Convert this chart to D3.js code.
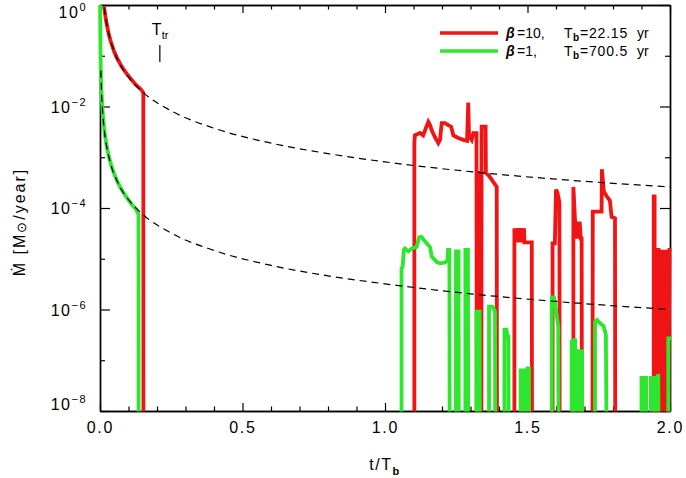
<!DOCTYPE html>
<html>
<head>
<meta charset="utf-8">
<script src="https://cdn.jsdelivr.net/npm/d3@7"></script>
<style>
  body { margin: 0; background: #fff; }
  text { font-family: "Liberation Sans", Arial, sans-serif; fill: #000; }
</style>
</head>
<body>
<div id="chart"></div>
<script>
// values (t/Tb, Mdot in Msun/yr)
// OFF = rate below the plotted range, the line just drops out of the frame
const OFF = 1e-9;

const xMajorTicks = [0, 0.5, 1.0, 1.5, 2.0];
const xMinorTicks = [0.1, 0.2, 0.3, 0.4, 0.6, 0.7, 0.8, 0.9, 1.1, 1.2, 1.3, 1.4, 1.6, 1.7, 1.8, 1.9];
const yMajorTicks = [1, 1e-2, 1e-4, 1e-6, 1e-8];
const yMajorLabels = ["0", "\u22122", "\u22124", "\u22126", "\u22128"];
const yMinorTicks = [1e-1, 1e-3, 1e-5, 1e-7];

const seriesBeta = ["10", "1"];
const seriesTb = ["22.15", "700.5"];

const tTr = 0.21;
const tTrMark = [0.163, 0.075];

// beta = 10
const redEarly = [
  [0.014, 0.93], [0.02, 0.55], [0.03, 0.28], [0.05, 0.12], [0.075, 0.063],
  [0.1, 0.04], [0.125, 0.027], [0.152, 0.0186], [0.1525, OFF]
];
const redLate = [
  [1.103, OFF], [1.103, 1.9e-3], [1.105, 2.7e-3], [1.123, 3.0e-3], [1.134, 2.7e-3],
  [1.143, 3.7e-3], [1.152, 5.0e-3], [1.158, 4.3e-3], [1.164, 3.4e-3], [1.175, 2.5e-3],
  [1.187, 1.9e-3], [1.193, 2.2e-3], [1.199, 4.7e-3], [1.211, 4.7e-3], [1.222, 4.3e-3],
  [1.232, 4.0e-3], [1.240, 2.7e-3], [1.257, 2.4e-3], [1.275, 2.2e-3], [1.288, 2.1e-3],
  [1.292, 1.2e-2], [1.295, 2.6e-3], [1.304, 2.2e-3], [1.310, 3.0e-3], [1.321, 3.0e-3],
  [1.322, OFF], [1.327, OFF], [1.328, 4.9e-4], [1.333, 4.9e-4], [1.334, OFF],
  [1.338, OFF], [1.339, 4.0e-3], [1.353, 4.0e-3], [1.354, 4.9e-4], [1.365, 4.3e-4],
  [1.392, 2.6e-4], [1.393, OFF],
  [1.454, OFF], [1.454, 4.0e-5], [1.460, 2.1e-5], [1.466, 4.0e-5], [1.472, 2.1e-5],
  [1.478, 4.0e-5], [1.484, 2.1e-5], [1.488, 4.0e-5], [1.489, 2.1e-5], [1.515, 2.1e-5],
  [1.516, OFF],
  [1.588, OFF], [1.588, 2.0e-5], [1.596, 2.0e-5], [1.600, 2.3e-4], [1.605, 2.0e-4],
  [1.612, 1.3e-4], [1.613, OFF],
  [1.661, OFF], [1.661, 2.6e-4], [1.667, 5.4e-5], [1.671, 2.5e-5], [1.675, 5.4e-5],
  [1.679, 2.5e-5], [1.683, 5.4e-5], [1.687, 2.5e-5], [1.690, 2.5e-5], [1.691, OFF],
  [1.728, OFF], [1.729, 8.5e-5], [1.760, 8.5e-5], [1.761, 5.8e-4], [1.768, 2.1e-4],
  [1.778, 1.7e-4], [1.789, 1.4e-4], [1.795, 6.7e-5], [1.807, 6.3e-5], [1.808, OFF],
  [1.943, OFF], [1.943, 1.7e-4], [1.946, 1.7e-4], [1.946, OFF],
  [1.953, OFF], [1.953, 1.5e-5], [1.960, 1.5e-5], [1.961, OFF],
  [1.966, OFF], [1.966, 1.5e-5], [1.970, OFF], [1.974, 1.5e-5], [1.978, OFF],
  [1.982, 1.5e-5], [1.986, OFF], [1.990, 1.5e-5], [1.994, OFF], [1.998, 1.5e-5],
  [2.005, 1.5e-5]
];

// beta = 1
const greenEarly = [
  [0.0005, 1.0], [0.001, 0.32], [0.002, 0.1], [0.004, 0.031], [0.008, 0.0099],
  [0.015, 0.0035], [0.025, 0.0015], [0.04, 6.8e-4], [0.06, 3.4e-4], [0.085, 1.9e-4],
  [0.11, 1.2e-4], [0.135, 7.5e-5], [0.1355, OFF]
];
const greenLate = [
  [1.058, OFF], [1.058, 6.5e-6], [1.062, 7.0e-6], [1.066, 1.5e-5], [1.070, 1.6e-5],
  [1.082, 1.4e-5], [1.094, 1.6e-5], [1.111, 1.7e-5], [1.120, 2.65e-5], [1.128, 2.7e-5],
  [1.140, 2.2e-5], [1.158, 1.7e-5], [1.164, 1.1e-5], [1.181, 8.7e-6], [1.193, 8.1e-6],
  [1.211, 8.4e-6], [1.219, 9.4e-6], [1.221, 1.5e-5], [1.226, 1.5e-5], [1.227, OFF],
  [1.249, OFF], [1.249, 1.4e-5], [1.258, 1.4e-5], [1.259, OFF],
  [1.282, OFF], [1.282, 1.5e-5], [1.291, 1.5e-5], [1.292, OFF],
  [1.321, OFF], [1.321, 9.1e-7], [1.332, 9.1e-7], [1.333, OFF],
  [1.365, OFF], [1.365, 1.14e-6], [1.377, 1.14e-6], [1.386, 9.1e-7], [1.387, OFF],
  [1.419, OFF], [1.419, 4.0e-7], [1.426, 4.0e-7], [1.430, 2.9e-7], [1.433, 2.9e-7], [1.434, OFF],
  [1.476, OFF], [1.476, 6.9e-8], [1.480, OFF], [1.484, 6.9e-8], [1.488, OFF], [1.492, 6.9e-8],
  [1.496, OFF], [1.500, 6.9e-8], [1.505, 6.9e-8], [1.506, OFF],
  [1.585, OFF], [1.585, 1.74e-6], [1.593, 1.74e-6], [1.600, 9.8e-7], [1.608, 4.6e-7], [1.609, OFF],
  [1.655, OFF], [1.655, 2.5e-7], [1.660, OFF], [1.664, 2.5e-7], [1.667, 2.5e-7],
  [1.668, 1.64e-7], [1.672, OFF], [1.676, 1.64e-7], [1.680, OFF], [1.684, 1.64e-7],
  [1.688, OFF], [1.691, 1.64e-7], [1.692, OFF],
  [1.737, OFF], [1.737, 5.7e-7], [1.744, 6.2e-7], [1.754, 5.4e-7], [1.767, 4.7e-7],
  [1.775, 3.2e-7], [1.778, OFF],
  [1.900, OFF], [1.900, 4.9e-8], [1.904, OFF], [1.908, 4.9e-8], [1.912, OFF],
  [1.916, 4.9e-8], [1.917, OFF],
  [1.933, OFF], [1.933, 4.9e-8], [1.937, OFF], [1.941, 4.9e-8], [1.945, OFF],
  [1.949, 4.9e-8], [1.953, OFF], [1.957, 4.9e-8], [1.959, 4.9e-8], [1.960, OFF],
  [1.994, OFF], [1.994, 2.7e-7], [2.008, 2.7e-7]
];

// dashed reference curves
const fitUpper = [
  [0.015, 0.89], [0.02, 0.55], [0.03, 0.28], [0.05, 0.12], [0.075, 0.061], [0.1, 0.038],
  [0.15, 0.0192], [0.25, 8.2e-3], [0.4, 3.74e-3], [0.6, 1.9e-3], [0.8, 1.18e-3],
  [1.0, 8.1e-4], [1.3, 5.2e-4], [1.6, 3.7e-4], [2.0, 2.6e-4]
];
const fitLower = [
  [0.003, 5.1e-2], [0.004, 3.1e-2], [0.008, 9.9e-3], [0.015, 3.5e-3], [0.03, 1.09e-3],
  [0.06, 3.4e-4], [0.1, 1.47e-4], [0.15, 7.5e-5], [0.25, 3.2e-5], [0.4, 1.46e-5],
  [0.6, 7.4e-6], [0.8, 4.6e-6], [1.0, 3.2e-6], [1.3, 2.04e-6], [1.6, 1.44e-6], [2.0, 1.0e-6]
];

const config = {
  containerWidth: 686,
  containerHeight: 478,
  margin: { top: 5, right: 16, bottom: 67, left: 100 },
  red: "#f01414",
  green: "#2ee62e",
};

const width = config.containerWidth - config.margin.left - config.margin.right;
const height = config.containerHeight - config.margin.top - config.margin.bottom;

const svg = d3.select("#chart").append("svg")
  .attr("width", config.containerWidth)
  .attr("height", config.containerHeight);

const chart = svg.append("g")
  .attr("transform", `translate(${config.margin.left},${config.margin.top})`);

const x = d3.scaleLinear().domain([0, 2]).range([0, width]);
const y = d3.scaleLog().domain([1e-8, 1]).range([height, 0]);

// axes: major + minor ticks on all four sides, all pointing inwards
const axisStyle = (g) => {
  g.selectAll(".domain").attr("stroke", "#000").attr("stroke-width", 1.4);
  g.selectAll(".tick line").attr("stroke", "#000").attr("stroke-width", 1.2);
};

chart.append("g").attr("transform", `translate(0,${height})`)
  .call(d3.axisBottom(x).tickValues(xMinorTicks).tickSize(-4.5).tickSizeOuter(0).tickFormat(""))
  .call(axisStyle);
chart.append("g").attr("transform", `translate(0,${height})`)
  .call(d3.axisBottom(x).tickValues(xMajorTicks).tickSize(-8).tickSizeOuter(0)
    .tickPadding(11).tickFormat(d3.format(".1f")))
  .call(axisStyle)
  .call((g) => g.selectAll(".tick text")
    .attr("fill", "#000")
    .style("font-family", '"Liberation Sans", Arial, sans-serif')
    .style("font-size", "16px")
    .style("letter-spacing", "1.8px"));
chart.append("g")
  .call(d3.axisTop(x).tickValues(xMinorTicks).tickSize(-4.5).tickSizeOuter(0).tickFormat(""))
  .call(axisStyle);
chart.append("g")
  .call(d3.axisTop(x).tickValues(xMajorTicks).tickSize(-8).tickSizeOuter(0).tickFormat(""))
  .call(axisStyle);

chart.append("g")
  .call(d3.axisLeft(y).tickValues(yMinorTicks).tickSize(-5).tickSizeOuter(0).tickFormat(""))
  .call(axisStyle);
chart.append("g")
  .call(d3.axisLeft(y).tickValues(yMajorTicks).tickSize(-10).tickSizeOuter(0).tickFormat(""))
  .call(axisStyle);
chart.append("g").attr("transform", `translate(${width},0)`)
  .call(d3.axisRight(y).tickValues(yMinorTicks).tickSize(-5).tickSizeOuter(0).tickFormat(""))
  .call(axisStyle);
chart.append("g").attr("transform", `translate(${width},0)`)
  .call(d3.axisRight(y).tickValues(yMajorTicks).tickSize(-10).tickSizeOuter(0).tickFormat(""))
  .call(axisStyle);

// y tick labels 10^n (end labels pulled inside the frame like the original)
yMajorTicks.forEach((v, i) => {
  let yy = y(v) + 6;
  if (i === 0) yy += 7;
  if (i === yMajorTicks.length - 1) yy -= 7;
  const t = chart.append("text")
    .attr("x", -13)
    .attr("y", yy)
    .attr("text-anchor", "end")
    .style("font-size", "16px")
    .style("letter-spacing", "1.5px");
  t.append("tspan").text("10");
  t.append("tspan").attr("dy", -7).style("font-size", "11px").text(yMajorLabels[i]);
});

// data
chart.append("clipPath").attr("id", "plot-clip")
  .append("rect")
  .attr("x", -3).attr("y", -3)
  .attr("width", width + 5).attr("height", height + 3.5);

const plot = chart.append("g").attr("clip-path", "url(#plot-clip)");

const stepLine = d3.line().x((d) => x(d[0])).y((d) => y(d[1]));
const smoothLine = d3.line().x((d) => x(d[0])).y((d) => y(d[1])).curve(d3.curveMonotoneX);

const drawSeries = (data, gen, color) => {
  plot.append("path")
    .datum(data)
    .attr("d", gen)
    .attr("fill", "none")
    .attr("stroke", color)
    .attr("stroke-width", 3.8)
    .attr("stroke-linejoin", "miter");
};

drawSeries(redEarly, smoothLine, config.red);
drawSeries(redLate, stepLine, config.red);
drawSeries(greenEarly, smoothLine, config.green);
drawSeries(greenLate, stepLine, config.green);

[fitUpper, fitLower].forEach((fit) => {
  plot.append("path")
    .datum(fit)
    .attr("d", smoothLine)
    .attr("fill", "none")
    .attr("stroke", "#000")
    .attr("stroke-width", 1.2)
    .attr("stroke-dasharray", "7,5");
});

// T_tr marker
chart.append("line")
  .attr("x1", x(tTr)).attr("x2", x(tTr))
  .attr("y1", y(tTrMark[0])).attr("y2", y(tTrMark[1]))
  .attr("stroke", "#000").attr("stroke-width", 1.2);
const ttrLabel = chart.append("text")
  .attr("x", x(tTr) - 8)
  .attr("y", 30)
  .style("font-size", "16px");
ttrLabel.append("tspan").text("T");
ttrLabel.append("tspan").attr("dy", 4).style("font-size", "11px").text("tr");

// legend
const legend = svg.append("g");
[config.red, config.green].forEach((color, i) => {
  const ly = 33 + i * 18;
  legend.append("line")
    .attr("x1", 440).attr("x2", 498)
    .attr("y1", ly).attr("y2", ly)
    .attr("stroke", color).attr("stroke-width", 3.6);
  const t = legend.append("text")
    .attr("x", 506).attr("y", ly + 5)
    .style("font-size", "14px");
  t.append("tspan").style("font-weight", "bold").style("font-style", "italic").text("\u03b2");
  t.append("tspan").attr("x", 517).text(`=${seriesBeta[i]},`);
  t.append("tspan").attr("x", 564).text("T");
  t.append("tspan").attr("x", 573).attr("dy", 3).style("font-size", "10px").style("font-weight", "bold").text("b");
  t.append("tspan").attr("x", 580).attr("dy", -3).style("letter-spacing", "0.8px").text(`=${seriesTb[i]}`);
  t.append("tspan").attr("x", 637).text("yr");
});

// axis titles
const xTitle = svg.append("text")
  .attr("x", config.margin.left + width / 2)
  .attr("y", 470)
  .attr("text-anchor", "middle")
  .style("font-size", "16px")
  .style("letter-spacing", "1.5px");
xTitle.append("tspan").text("t/T");
xTitle.append("tspan").attr("dy", 5).style("font-size", "11px").style("font-weight", "bold").text("b");

const yTitle = svg.append("text")
  .attr("transform", "translate(25,222) rotate(-90)")
  .attr("text-anchor", "middle")
  .style("font-size", "16px")
  .style("letter-spacing", "2px");
yTitle.append("tspan").text("\u1e40 [M");
yTitle.append("tspan").attr("dy", 1).style("font-size", "13px").text("\u2299");
yTitle.append("tspan").attr("dy", -1).text("/year]");
</script>
</body>
</html>
